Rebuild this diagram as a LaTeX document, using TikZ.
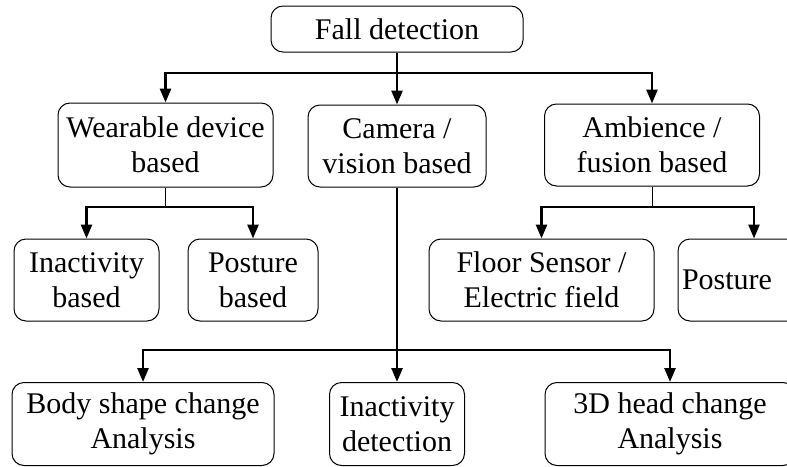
\documentclass[tikz,border=0pt]{standalone}
\usepackage{fontspec}
\setmainfont{Liberation Serif}
\usetikzlibrary{arrows.meta}

\begin{document}
\begin{tikzpicture}[x=1pt, y=-1pt,
   every node/.style={draw, rounded corners=12pt, align=center, line width=1pt,
       inner sep=3pt, font=\fontsize{30}{35}\selectfont},
   box/.style={minimum height=82pt},
   bar/.style={line width=2.6pt},
   stem/.style={line width=0.9pt},
   arr/.style={bar, -{Triangle[length=14pt, width=11pt]}}]

\clip (0,0) rectangle (787,466);

% top
\node[minimum width=252pt, minimum height=46pt] (fall) at (397,29) {Fall detection};

% level 1
\node[box, minimum width=215pt, minimum height=84pt] (wearable) at (165.5,145) {Wearable device\\based};
\node[box, minimum width=178pt] (camera) at (397,146) {Camera /\\vision based};
\node[box, minimum width=215pt] (ambience) at (652,145) {Ambience /\\fusion based};

% level 2
\node[box, minimum width=145pt] (inact) at (86.5,280) {Inactivity\\based};
\node[box, minimum width=130pt] (posture) at (253,280) {Posture\\based};
\node[box, minimum width=225pt] (floor) at (541.5,280) {Floor Sensor /\\Electric field};
\node[box, text width=144pt, inner xsep=4pt, align=left] (posture2) at (754,280) {Posture};

% level 3
\node[box, minimum width=262pt, minimum height=83pt] (body) at (143,424) {Body shape change\\Analysis};
\node[box, minimum width=135pt, minimum height=83pt] (inactdet) at (397,424) {Inactivity\\detection};
\node[box, minimum width=250pt, minimum height=83pt] (head) at (670,424) {3D head change\\Analysis};

% connectors
\coordinate (topbar) at (fall.south |- 0,73);
\draw[bar] (fall.south) -- (topbar);
\draw[arr] (topbar) -| (wearable.north);
\draw[arr] (topbar) -- (camera.north);
\draw[arr] (topbar) -| (ambience.north);

\coordinate (wbar) at (wearable.south |- 0,207);
\draw[stem] (wearable.south) -- (wbar);
\draw[arr] (wbar) -| (inact.north);
\draw[arr] (wbar) -| (posture.north);

\coordinate (abar) at (ambience.south |- 0,207);
\draw[stem] (ambience.south) -- (abar);
\draw[arr] (abar) -| (floor.north);
\draw[arr] (abar) -| (posture2.north);

\coordinate (cbar) at (camera.south |- 0,350);
\draw[bar] (camera.south) -- (cbar);
\draw[arr] (cbar) -| (body.north);
\draw[arr] (cbar) -- (inactdet.north);
\draw[arr] (cbar) -| (head.north);

\end{tikzpicture}
\end{document}
